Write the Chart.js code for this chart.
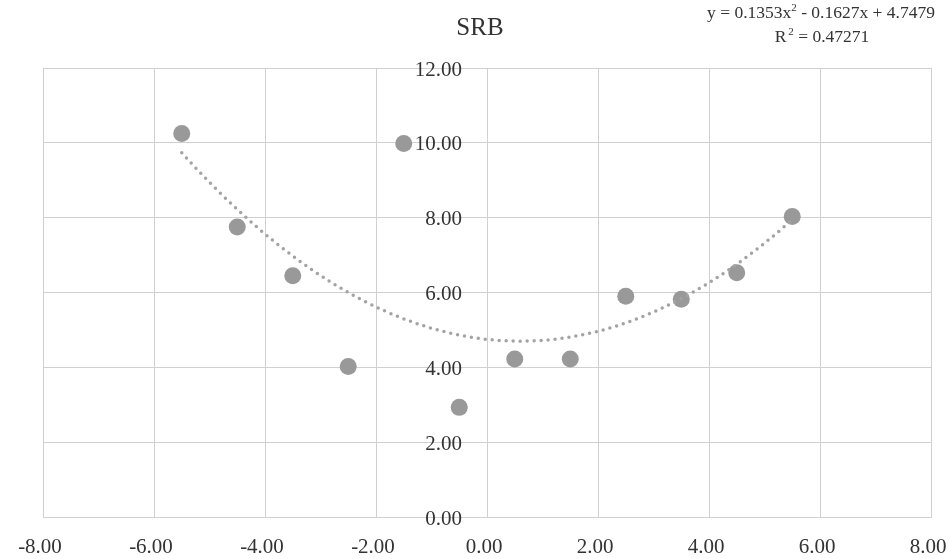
<!DOCTYPE html>
<html>
<head>
<meta charset="utf-8">
<script src="https://cdn.jsdelivr.net/npm/chart.js@4/dist/chart.umd.min.js"></script>
<style>
  html, body { margin: 0; padding: 0; background: #fff; }
  #wrap { width: 950px; height: 559px; position: relative; }
</style>
</head>
<body>
<div id="wrap"><canvas id="chart"></canvas></div>
<script>
// data
const xValues = [-5.5, -4.5, -3.5, -2.5, -1.5, -0.5, 0.5, 1.5, 2.5, 3.5, 4.5, 5.5];
const yValues = [10.25, 7.75, 6.45, 4.02, 9.98, 2.93, 4.22, 4.22, 5.9, 5.82, 6.53, 8.03];
const xTicks = [-8, -6, -4, -2, 0, 2, 4, 6, 8];
const yTicks = [0, 2, 4, 6, 8, 10, 12];
// trendline coefficients as printed on the chart (a, b, c)
const trendCoef = [0.1353, -0.1627, 4.7479];
const chartTitle = "SRB";
const rSquared = "0.47271";

const points = xValues.map((x, i) => ({ x: x, y: yValues[i] }));

// trendline drawn from the printed equation over the data range
const trendPts = [];
for (let k = 0; k <= 110; k++) {
  const x = xValues[0] + k * 0.1;
  trendPts.push({ x: x, y: trendCoef[0] * x * x + trendCoef[1] * x + trendCoef[2] });
}

const serif = "'Liberation Serif', 'DejaVu Serif', serif";
const textCol = "#333333";
const gridCol = "#d0d0d0";

const fmt = (v) => Number(v).toFixed(2);

// title, equation and the y tick labels (the y axis sits at x = 0)
const labelsPlugin = {
  id: "labels",
  afterDraw(chart) {
    const ctx = chart.ctx;
    const xs = chart.scales.x;
    const ys = chart.scales.y;
    ctx.save();
    ctx.fillStyle = textCol;
    ctx.textBaseline = "middle";

    // y labels, right aligned, left of the axis
    ctx.textAlign = "right";
    ctx.font = "21px " + serif;
    const axisX = xs.getPixelForValue(0);
    yTicks.forEach((v) => {
      ctx.fillText(fmt(v), axisX - 25, ys.getPixelForValue(v) + 2);
    });

    ctx.textAlign = "center";
    ctx.font = "25px " + serif;
    ctx.fillText(chartTitle, 480, 28);

    // line 1 with superscript
    const big = "17.5px " + serif;
    const small = "11px " + serif;
    const a = "y = " + trendCoef[0] + "x";
    const b = "2";
    const c = " - " + Math.abs(trendCoef[1]) + "x + " + trendCoef[2];
    ctx.font = big;
    const wa = ctx.measureText(a).width;
    const wc = ctx.measureText(c).width;
    ctx.font = small;
    const wb = ctx.measureText(b).width;
    let x0 = 821 - (wa + wb + wc) / 2;
    ctx.textAlign = "left";
    ctx.font = big;
    ctx.fillText(a, x0, 13);
    ctx.font = small;
    ctx.fillText(b, x0 + wa, 8);
    ctx.font = big;
    ctx.fillText(c, x0 + wa + wb, 13);

    // line 2
    const r1 = "R";
    const r3 = " = " + rSquared;
    ctx.font = big;
    const w1 = ctx.measureText(r1).width + 2;
    const w3 = ctx.measureText(r3).width;
    ctx.font = small;
    const w2 = ctx.measureText(b).width;
    x0 = 822 - (w1 + w2 + w3) / 2;
    ctx.font = big;
    ctx.fillText(r1, x0, 37);
    ctx.font = small;
    ctx.fillText(b, x0 + w1, 32);
    ctx.font = big;
    ctx.fillText(r3, x0 + w1 + w2, 37);
    ctx.restore();
  },
};

const ctx = document.getElementById("chart").getContext("2d");
const chart = new Chart(ctx, {
  type: "scatter",
  data: {
    datasets: [
      {
        label: "Trend",
        data: trendPts,
        showLine: true,
        pointRadius: 0,
        borderColor: "#a3a3a3",
        borderWidth: 3.5,
        borderDash: [0, 7],
        borderCapStyle: "round",
        fill: false,
        order: 0,
      },
      {
        label: chartTitle,
        data: points,
        pointRadius: 8.5,
        pointHoverRadius: 8.5,
        backgroundColor: "#999999",
        borderWidth: 0,
        order: 1,
      },
    ],
  },
  options: {
    responsive: true,
    maintainAspectRatio: false,
    animation: false,
    events: [],
    layout: { padding: { left: 43, right: 19, top: 68, bottom: 0 } },
    plugins: {
      legend: { display: false },
      title: { display: false },
      tooltip: { enabled: false },
    },
    scales: {
      x: {
        type: "linear",
        min: -8,
        max: 8,
        afterBuildTicks: (s) => { s.ticks = xTicks.map((v) => ({ value: v })); },
        afterFit: (s) => { s.height = 42; s.paddingLeft = 0; s.paddingRight = 0; },
        grid: { color: gridCol, drawTicks: false },
        border: { color: gridCol },
        ticks: {
          font: { family: serif, size: 21 },
          color: textCol,
          padding: 18,
          labelOffset: -3,
          maxRotation: 0,
          callback: (v) => fmt(v),
        },
      },
      y: {
        type: "linear",
        position: { x: 0 },
        min: 0,
        max: 12,
        afterBuildTicks: (s) => { s.ticks = yTicks.map((v) => ({ value: v })); },
        grid: { color: gridCol, drawTicks: false },
        border: { color: gridCol },
        ticks: { display: false },
      },
    },
  },
  plugins: [labelsPlugin],
});
</script>
</body>
</html>
